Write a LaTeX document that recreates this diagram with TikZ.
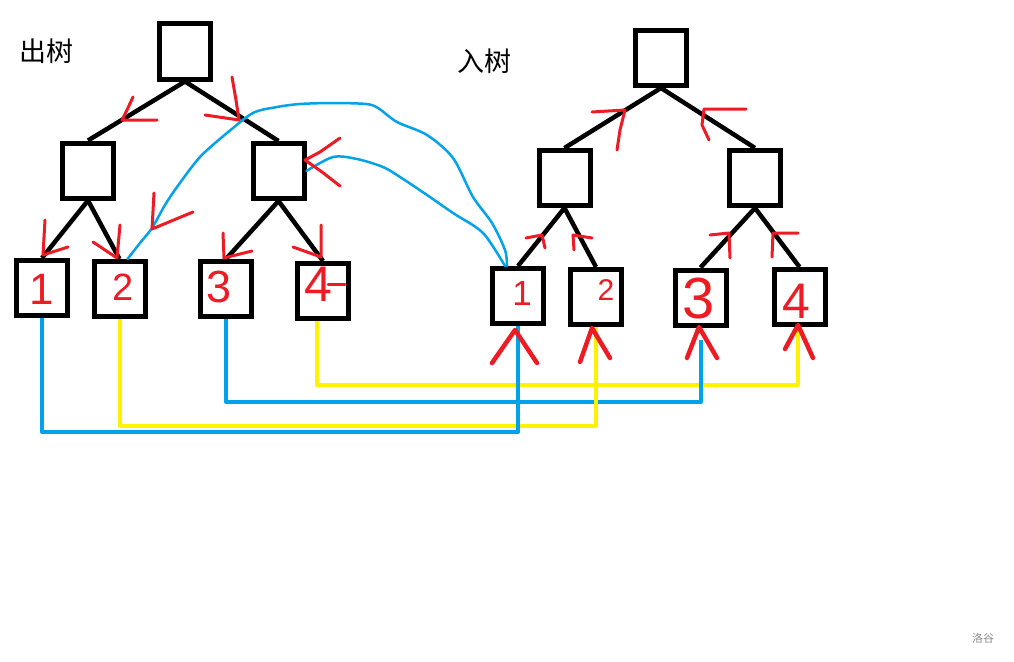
\documentclass[tikz,border=0pt]{standalone}
\usepackage{fontspec}
\setmainfont{Liberation Sans}
\newfontfamily\cjk{Noto Sans CJK SC}
\definecolor{pblue}{RGB}{0,162,232}
\definecolor{pyellow}{RGB}{255,242,0}
\definecolor{pred}{RGB}{237,28,36}
\begin{document}
\begin{tikzpicture}[x=1pt,y=-1pt,
  box/.style={draw, line width=5pt, minimum width=51pt, minimum height=55pt, inner sep=0pt},
  treeedge/.style={line width=4.5pt},
  redstroke/.style={pred, line width=3pt, line cap=round, line join=round},
  bigred/.style={pred, line width=4.5pt, line cap=round, line join=round},
  bluecurve/.style={pblue, line width=2.5pt, line cap=round, line join=round},
  bluewire/.style={pblue, line width=4pt, line join=round},
  yellowwire/.style={pyellow, line width=4pt, line join=round},
  digit/.style={text=pred, inner sep=0pt},
  titletext/.style={inner sep=0pt, font=\cjk\fontsize{27}{27}\selectfont}
  ]
\useasboundingbox[fill=white] (0,0) rectangle (1014,661);

% titles
\node[titletext] (tout) at (46,51) {出树};
\node[titletext] (tin) at (484,61) {入树};
\node[inner sep=0pt, text=black!45, font=\cjk\fontsize{11}{11}\selectfont] (wm) at (983,638) {洛谷};

% boxes - out tree
\node[box] (Lroot) at (185,51.5) {};
\node[box] (Lm1) at (88,170.5) {};
\node[box] (Lm2) at (278.5,171) {};
\node[box] (L1) at (42,288) {};
\node[box] (L2) at (119.5,289) {};
\node[box] (L3) at (226,289) {};
\node[box] (L4) at (323,291) {};
% boxes - in tree
\node[box] (Rroot) at (661,58) {};
\node[box] (Rm1) at (564.5,178) {};
\node[box] (Rm2) at (755,178) {};
\node[box] (R1) at (518,296) {};
\node[box] (R2) at (596,297) {};
\node[box] (R3) at (700.5,297.5) {};
\node[box] (R4) at (799.5,297) {};

% tree edges
\draw[treeedge] (Lroot.south) -- (Lm1.north);
\draw[treeedge] (Lroot.south) -- (Lm2.north);
\draw[treeedge] (Lm1.south) -- (L1.north);
\draw[treeedge] (Lm1.south) -- (L2.north);
\draw[treeedge] (Lm2.south) -- (L3.north);
\draw[treeedge] (Lm2.south) -- (L4.north);
\draw[treeedge] (Rroot.south) -- (Rm1.north);
\draw[treeedge] (Rroot.south) -- (Rm2.north);
\draw[treeedge] (Rm1.south) -- (R1.north);
\draw[treeedge] (Rm1.south) -- (R2.north);
\draw[treeedge] (Rm2.south) -- (R3.north);
\draw[treeedge] (Rm2.south) -- (R4.north);

% bottom wires
\coordinate (y4) at (0,385);
\coordinate (y3) at (0,402);
\coordinate (y2) at (0,426);
\coordinate (y1) at (0,432);
\coordinate (w4s) at ([xshift=-6pt]L4.south);
\coordinate (w4e) at ([xshift=-2pt]R4.south);
\coordinate (w3e) at ([yshift=-12pt]R3.south);
\draw[yellowwire] (w4s) -- (w4s |- y4) -- (w4e |- y4) -- (w4e);
\draw[bluewire] (L3.south) -- (L3.south |- y3) -- (w3e |- y3) -- (w3e);
\draw[yellowwire] (L2.south) -- (L2.south |- y2) -- (R2.south |- y2) -- (R2.south);
\draw[bluewire] (L1.south) -- (L1.south |- y1) -- (R1.south |- y1) -- (R1.south);

% blue curves
\coordinate (c1s) at ([xshift=8pt]L2.north);
\coordinate (c1e) at ([xshift=-11pt]R1.north);
\coordinate (c2s) at (Lm2.east);
\coordinate (c2e) at ([xshift=-13pt]R1.north);
\draw[bluecurve] plot[smooth, tension=0.5] coordinates {(c1s) (140,243) (152,228) (165,205) (177,187) (200,157) (227,133) (253,113) (277,107) (300,104) (333,103) (366,104) (378,108) (397,122) (427,135) (453,158) (473,197) (492,223) (505,250) (c1e)};
\draw[bluecurve] plot[smooth, tension=0.5] coordinates {(c2s) (333,157) (357,159) (383,167) (400,177) (427,195) (453,213) (483,233) (c2e)};

% red arrows, out tree
\draw[redstroke] (133,97) -- (127,110) -- (122,120) -- (157,120);
\draw[redstroke] (232,77) -- (236,100) -- (239,120) -- (205,115);
\draw[redstroke] (340,138) -- (320,152) -- (305,160) -- (322,172) -- (340,186);
\draw[redstroke] (45,220) -- (43,255) -- (68,247);
\draw[redstroke] (120,225) -- (117,258) -- (93,242);
\draw[redstroke] (154,193) -- (152,229) -- (193,212);
\draw[redstroke] (223,233) -- (224,258) -- (252,251);
\draw[redstroke] (321,225) -- (321,257) -- (293,247);

% red marks, in tree
\draw[redstroke] (592,112) -- (625,110) -- (620,130) -- (617,150);
\draw[redstroke] (746,109) -- (704,109) -- (702,125) -- (709,140);
\draw[redstroke] (526,238) -- (542,235) -- (545,248);
\draw[redstroke] (592,238) -- (573,235) -- (574,250);
\draw[redstroke] (710,235) -- (729,233) -- (730,258);
\draw[redstroke] (798,233) -- (773,233) -- (772,257);

% big red arrows under in-tree leaves
\draw[bigred] (492,363) -- (515,330) -- (537,363);
\draw[bigred] (580,362) -- (592,328) -- (610,358);
\draw[bigred] (687,358) -- (699,327) -- (717,358);
\draw[bigred] (785,349) -- (798,325) -- (813,358);

% digits
\node[digit, font=\fontsize{44}{44}\selectfont] (d1) at (42,289) {1};
\node[digit, font=\fontsize{38}{38}\selectfont] (d2) at (123,287) {2};
\node[digit, font=\fontsize{45}{45}\selectfont] (d3) at (219,287) {3};
\node[digit, font=\fontsize{50}{50}\selectfont] (d4) at (318,284) {4};
\draw[redstroke] (328,284) -- (345,284);
\node[digit, font=\fontsize{35}{35}\selectfont] (e1) at (522,293) {1};
\node[digit, font=\fontsize{30}{30}\selectfont] (e2) at (606,290) {2};
\node[digit, font=\fontsize{58}{58}\selectfont] (e3) at (699,299) {3};
\node[digit, font=\fontsize{50}{50}\selectfont] (e4) at (796,301) {4};
\end{tikzpicture}
\end{document}
